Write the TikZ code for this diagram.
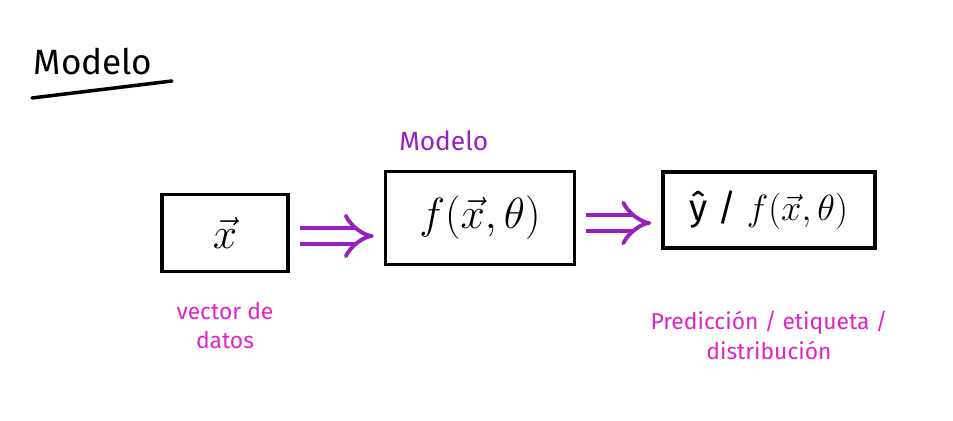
\documentclass[tikz,border=0pt]{standalone}
\usepackage{amsmath}
\usepackage{fontspec}
\setmainfont{Fira Sans}
\usepackage{tikz}
\usetikzlibrary{arrows.meta,positioning}

\definecolor{modelpurple}{HTML}{9A1FBF}
\definecolor{notemagenta}{HTML}{E023C8}

\tikzset{
  sketchbox/.style = {draw, line width=2pt, inner sep=0pt},
  implies/.style   = {draw=modelpurple, line width=2.2pt, double, double distance=6.5pt,
                      -{Implies}, shorten <=0.2cm, shorten >=0.2cm},
  note/.style      = {text=notemagenta, font=\fontsize{13}{17}\selectfont, align=center},
}

\begin{document}
\begin{tikzpicture}[x=0.02cm, y=-0.02cm]
    \useasboundingbox (0,0) rectangle (953,421);

    % title
    \node[font=\fontsize{20}{22}\selectfont] (title) at (93,62) {Modelo};
    \coordinate (ul1) at (32,98);
    \coordinate (ul2) at (172,81);
    \draw[line width=2pt, line cap=round] (ul1) -- (ul2);

    % boxes
    \node[sketchbox, minimum width=2.52cm, minimum height=1.54cm,
          font=\fontsize{26}{30}\selectfont] (xbox) at (225,233) {$\vec{x}$};
    \node[sketchbox, minimum width=3.78cm, minimum height=1.86cm,
          font=\fontsize{24}{28}\selectfont] (fbox) at (480,218) {$f(\vec{x},\theta)$};
    \node[sketchbox, minimum width=4.24cm, minimum height=1.52cm,
          font=\fontsize{21}{25}\selectfont] (ybox) at (769,210) {ŷ / $f(\vec{x},\theta)$};

    \node[text=modelpurple, font=\fontsize{15}{18}\selectfont, above=0.25cm of fbox.north west, xshift=1.2cm] (mlabel) {Modelo};

    % arrows
    \draw[implies] ([yshift=-0.06cm]xbox.east) -- ([yshift=-0.06cm]xbox.east -| fbox.west);
    \draw[implies] ([yshift=-0.1cm]fbox.east) -- ([yshift=-0.1cm]fbox.east -| ybox.west);

    % notes
    \node[note, below=0.45cm of xbox] (xnote) {vector de\\datos};
    \node[note, below=1.1cm of ybox] (ynote) {Predicción / etiqueta /\\distribución};
\end{tikzpicture}
\end{document}
